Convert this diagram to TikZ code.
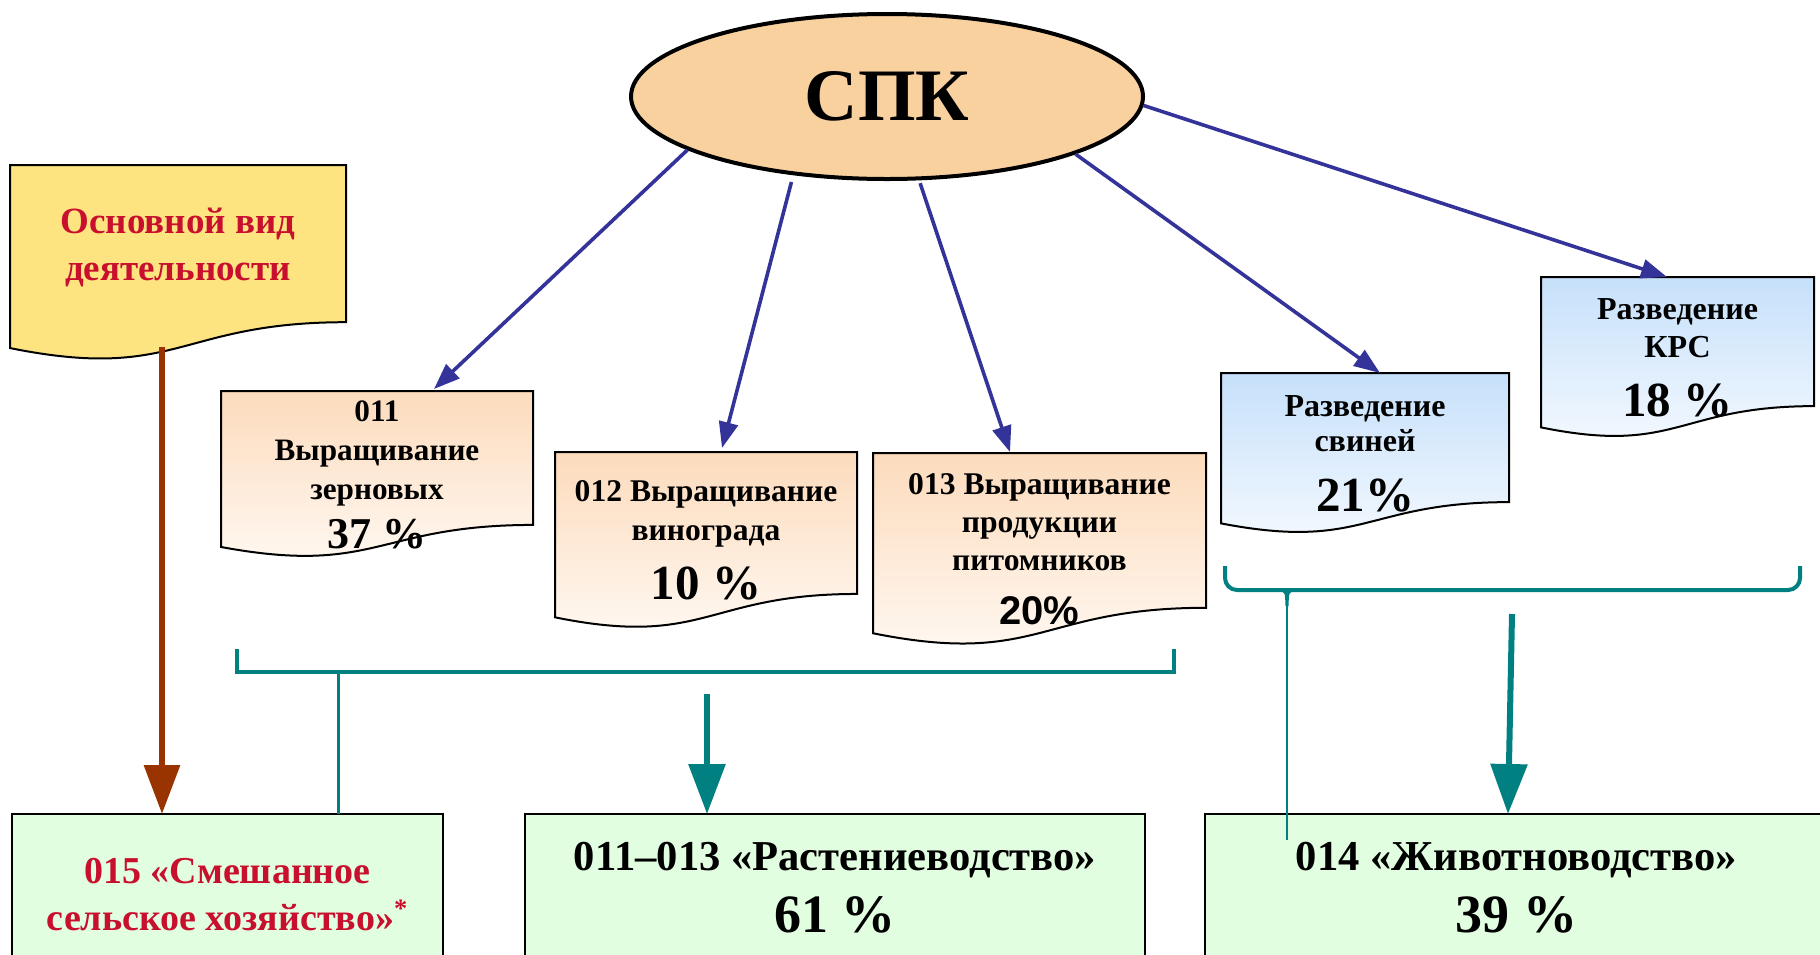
\documentclass[tikz,border=0pt]{standalone}
\usepackage{fontspec}
\setmainfont{Liberation Serif}
\setsansfont{Liberation Sans}
\usepackage{tikz}
\usetikzlibrary{shapes,positioning,calc,arrows.meta,backgrounds}
\definecolor{spkfill}{RGB}{249,209,159}
\definecolor{arblue}{RGB}{51,51,153}
\definecolor{tealc}{RGB}{0,128,128}
\definecolor{brownc}{RGB}{153,51,0}
\definecolor{redtxt}{RGB}{200,16,46}
\definecolor{yelfill}{RGB}{253,228,128}
\definecolor{ortop}{RGB}{252,219,188}
\definecolor{orbot}{RGB}{255,250,245}
\definecolor{bltop}{RGB}{198,224,250}
\definecolor{blbot}{RGB}{246,250,255}
\definecolor{grfill}{RGB}{226,254,224}
\tikzset{ell/.style={ellipse,draw,line width=2pt,fill=spkfill,minimum width=256pt,minimum height=82.5pt,inner sep=0pt,font=\bfseries\fontsize{37}{37}\selectfont},
  doc/.style={rectangle,inner sep=0pt,outer sep=0pt,align=center},
  res/.style={rectangle,draw,line width=1pt,fill=grfill,inner sep=0pt,outer sep=0pt,align=center},
  blu/.style={draw=arblue,line width=1.8pt,-{Triangle[length=13pt,width=9.5pt]}},
  tarr/.style={draw=tealc,line width=3pt,-{Triangle[length=25pt,width=18pt]}},
  brk/.style={draw=tealc,line width=2pt}}
\newcommand\docpath[1]{(#1.north west) -- (#1.north east) -- ($(#1.north east)!0.802!(#1.south east)$) .. controls ($(#1.north)!0.802!(#1.south)$) and ($(#1.north)!1.107!(#1.south)$) .. ($(#1.north west)!0.934!(#1.south west)$) -- cycle}
\begin{document}
\begin{tikzpicture}[x=0.5pt,y=-0.5pt]
    \useasboundingbox (0,0) rectangle (1820,954);
    \node[ell] (spk) at (887,96.5) {СПК};

    \node[doc,minimum width=168pt,minimum height=98pt] (osn) at (178,263) {};
    \node[doc,text=redtxt,font=\bfseries\fontsize{18.5}{23.5}\selectfont] (osnt) at (178,247) {Основной вид\\деятельности};

    \node[doc,minimum width=156pt,minimum height=83.5pt,font=\bfseries\fontsize{15.6}{19.5}\selectfont] (d011) at (377,474.5) {011\\Выращивание\\зерновых\\[5pt]{\fontsize{22}{22}\selectfont 37 \%}};
    \node[doc,minimum width=151pt,minimum height=88.5pt,font=\bfseries\fontsize{15.8}{19.5}\selectfont] (d012) at (706,540.5) {012 Выращивание\\винограда\\[9pt]{\fontsize{24.5}{24.5}\selectfont 10 \%}};
    \node[doc,minimum width=166.5pt,minimum height=96.5pt,font=\bfseries\fontsize{15.8}{19}\selectfont] (d013) at (1039.5,549.5) {013 Выращивание\\продукции\\питомников\\[8pt]{\sffamily\fontsize{20}{20}\selectfont 20\%}};
    \node[doc,minimum width=144pt,minimum height=80.5pt,font=\bfseries\fontsize{16}{17.5}\selectfont] (dsv) at (1365,453.5) {Разведение\\свиней\\[12.5pt]{\fontsize{24.5}{24.5}\selectfont 21\%}};
    \node[doc,minimum width=136.5pt,minimum height=80.5pt,font=\bfseries\fontsize{16}{19}\selectfont] (dkrs) at (1677.5,357.5) {Разведение\\КРС\\[10.5pt]{\fontsize{24.5}{24.5}\selectfont 18 \%}};

    \node[res,minimum width=215.5pt,minimum height=80.5pt,text=redtxt,font=\bfseries\fontsize{19}{23.5}\selectfont] (b015) at (227.5,894.5) {015 «Смешанное\\сельское хозяйство»\textsuperscript{*}};
    \node[res,minimum width=310pt,minimum height=73.5pt,font=\bfseries\fontsize{21.3}{24}\selectfont] (b011) at (835,887.5) {011–013 «Растениеводство»\\[7pt]{\fontsize{27}{27}\selectfont 61 \%}};
    \node[res,minimum width=311.5pt,minimum height=73.5pt,font=\bfseries\fontsize{21.3}{24}\selectfont] (b014) at (1516.5,887.5) {014 «Животноводство»\\[7pt]{\fontsize{27}{27}\selectfont 39 \%}};

    \begin{scope}[on background layer]
        \draw[fill=yelfill,line width=1pt] \docpath{osn};
        \shade[top color=ortop,bottom color=orbot,draw=black,line width=1pt] \docpath{d011};
        \shade[top color=ortop,bottom color=orbot,draw=black,line width=1pt] \docpath{d012};
        \shade[top color=ortop,bottom color=orbot,draw=black,line width=1pt] \docpath{d013};
        \shade[top color=bltop,bottom color=blbot,draw=black,line width=1pt] \docpath{dsv};
        \shade[top color=bltop,bottom color=blbot,draw=black,line width=1pt] \docpath{dkrs};
    \end{scope}

    \draw[blu] (spk.195) -- ([xshift=28.5pt,yshift=1pt]d011.north);
    \draw[blu,shorten <=3.5pt] (spk.220) -- ([xshift=8pt,yshift=2pt]d012.north);
    \draw[blu,shorten <=1.5pt] (spk.291) -- ([xshift=-14.75pt,yshift=0.5pt]d013.north);
    \draw[blu] (spk.343) -- ([xshift=7.5pt]dsv.north);
    \draw[blu] (spk.358) -- ([xshift=-5.25pt]dkrs.north);

    % brackets
    \coordinate (lbt) at (338,672);
    \coordinate (rbt) at (1287,590);
    \coordinate (rbe) at (1287,840);
    \coordinate (pl) at (707,694);
    \coordinate (an) at (1512,614);
    \coordinate (brn) at (162,347);
    \draw[brk] (237,649) -- (237,672) -- (1174,672) -- (1174,649);
    \draw[brk,rounded corners=6pt] (1225,566) -- (1225,590) -- (1800,590) -- (1800,566);
    \fill[tealc] (1279,591) .. controls (1285,592) .. (1285.5,606) -- (1288.5,606) .. controls (1289,592) .. (1295,591) -- cycle;
    \draw[draw=tealc,line width=1.5pt] (lbt) -- (lbt |- b015.north);
    \draw[draw=tealc,line width=1.2pt] (rbt) -- (rbe);
    \draw[tarr] (pl) -- (pl |- b011.north);
    \draw[tarr] (an) -- ([xshift=-4.25pt]b014.north);
    \draw[draw=brownc,line width=3.2pt,-{Triangle[length=24.5pt,width=17.5pt]}] (brn) -- (brn |- b015.north);
\end{tikzpicture}
\end{document}
